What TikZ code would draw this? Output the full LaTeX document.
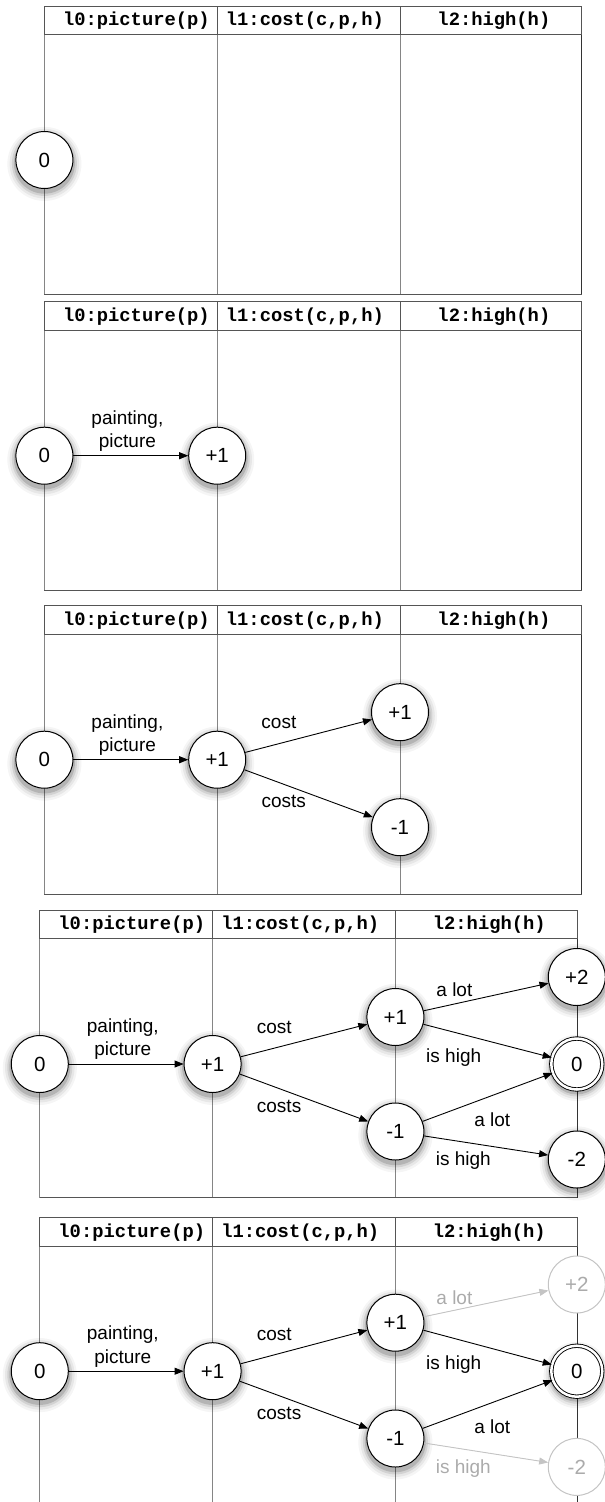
\documentclass[tikz,border=0pt]{standalone}
\usepackage{fontspec}
\setmainfont{Liberation Sans}
\newfontfamily\hdrfont{Liberation Mono}
\usetikzlibrary{arrows.meta,shadows}
\definecolor{vline}{HTML}{858585}
\definecolor{hline}{HTML}{555555}
\definecolor{rline}{HTML}{333333}
\definecolor{fadeline}{HTML}{C4C4C4}
\definecolor{fadetext}{HTML}{ABABAB}
\tikzset{
  softshadow/.style={
    general shadow={fill=black,opacity=0.04,shadow scale=1.30,shadow yshift=-3pt},
    general shadow={fill=black,opacity=0.06,shadow scale=1.22,shadow yshift=-3pt},
    general shadow={fill=black,opacity=0.09,shadow scale=1.14,shadow yshift=-3pt},
    general shadow={fill=black,opacity=0.14,shadow scale=1.07,shadow yshift=-3pt}},
  state/.style={circle, draw=black, line width=1pt, fill=white, minimum size=57pt,
    inner sep=0pt, font=\fontsize{20.5}{24}\selectfont, softshadow},
  finalstate/.style={state, minimum size=51pt, double, double distance=2.5pt, line width=0.9pt},
  fadedstate/.style={circle, draw=fadeline, line width=1pt, fill=white, minimum size=57pt,
    inner sep=0pt, text=fadetext, font=\fontsize{20.5}{24}\selectfont},
  lbl/.style={font=\fontsize{19}{23.5}\selectfont, inner sep=0pt, align=center},
  fadedlbl/.style={lbl, text=fadetext},
  hdr/.style={font=\hdrfont\bfseries\fontsize{18.8}{22}\selectfont, inner sep=0pt},
  edge/.style={-{Triangle[length=9pt,width=7pt]}, line width=0.9pt, draw=black},
  fadededge/.style={edge, draw=fadeline, fill=fadeline}
}
% #1 name prefix, #2 x shift, #3 y top, #4 body bottom (relative)
\newcommand\panelframe[4]{%
  \begin{scope}[shift={(#2,#3)}]
    \draw[vline, line width=1pt] (0,28.5) -- (0,#4) (172.8,28.5) -- (172.8,#4) (355.6,28.5) -- (355.6,#4);
    \draw[rline, line width=1pt] (537.5,28.5) -- (537.5,#4);
    \draw[hline, line width=1pt] (0,0) rectangle (537.5,28.5);
    \draw[hline, line width=1pt] (172.8,0) -- (172.8,28.5) (355.6,0) -- (355.6,28.5);
    \node[hdr] (#1h0) at (92,14.5) {l0:picture(p)};
    \node[hdr] (#1h1) at (260.5,14.5) {l1:cost(c,p,h)};
    \node[hdr] (#1h2) at (449.5,14.5) {l2:high(h)};
  \end{scope}}
\begin{document}
\begin{tikzpicture}[x=1pt,y=-1pt]
\useasboundingbox (0,0) rectangle (605,1502);

% ---------- panel 1 ----------
\panelframe{a}{44.4}{6}{288}
\draw[hline, line width=1pt] (44.4,294) -- (582,294);
\begin{scope}[shift={(44.4,6)}]
  \node[state] (a0) at (0,154) {0};
\end{scope}

% ---------- panel 2 ----------
\panelframe{b}{44.4}{301.7}{288.3}
\draw[hline, line width=1pt] (44.4,590) -- (582,590);
\begin{scope}[shift={(44.4,301.7)}]
  \node[state] (b0) at (0,154) {0};
  \node[state] (b1) at (172.8,154) {+1};
  \node[lbl] (bl1) at (83,129.3) {painting,\\picture};
  \draw[edge] (b0) -- (b1);
\end{scope}

% ---------- panel 3 ----------
\panelframe{c}{44.4}{605.7}{288.3}
\draw[hline, line width=1pt] (44.4,894) -- (582,894);
\begin{scope}[shift={(44.4,605.7)}]
  \node[state] (c0) at (0,154) {0};
  \node[state] (c1) at (172.8,154) {+1};
  \node[state] (c2u) at (355.6,106.5) {+1};
  \node[state] (c2d) at (355.6,221.5) {-1};
  \node[lbl] (cl1) at (83,129.3) {painting,\\picture};
  \node[lbl] (cl2) at (234.5,117) {cost};
  \node[lbl] (cl3) at (239.3,196) {costs};
  \draw[edge] (c0) -- (c1);
  \draw[edge] (c1) -- (c2u);
  \draw[edge] (c1) -- (c2d);
\end{scope}

% ---------- panel 4 ----------
\panelframe{d}{39.8}{910}{287.7}
\draw[hline, line width=1pt] (39.8,1197.7) -- (577.3,1197.7);
\begin{scope}[shift={(39.8,910)}]
  \node[state] (d0) at (0,154) {0};
  \node[state] (d1) at (172.8,154) {+1};
  \node[state] (d2u) at (355.6,107) {+1};
  \node[state] (d2d) at (355.6,221.5) {-1};
  \node[state] (d3a) at (537,67) {+2};
  \node[finalstate] (d3b) at (537,154) {0};
  \node[state] (d3c) at (537,249.5) {-2};
  \node[lbl] (dl1) at (83,129.3) {painting,\\picture};
  \node[lbl] (dl2) at (234.5,117) {cost};
  \node[lbl] (dl3) at (239.3,196) {costs};
  \node[lbl] (dl4) at (414.6,80) {a lot};
  \node[lbl] (dl5) at (413.9,147.5) {is high};
  \node[lbl] (dl6) at (452.5,209.5) {a lot};
  \node[lbl] (dl7) at (423.5,251) {is high};
  \draw[edge] (d0) -- (d1);
  \draw[edge] (d1) -- (d2u);
  \draw[edge] (d1) -- (d2d);
  \draw[edge] (d2u) -- (d3a);
  \draw[edge] (d2u) -- (d3b);
  \draw[edge] (d2d) -- (d3b);
  \draw[edge] (d2d) -- (d3c);
\end{scope}

% ---------- panel 5 ----------
\panelframe{e}{39.8}{1217.7}{300}
\begin{scope}[shift={(39.8,1217.7)}]
  \node[state] (e0) at (0,153.5) {0};
  \node[state] (e1) at (172.8,153.5) {+1};
  \node[state] (e2u) at (355.6,105) {+1};
  \node[state] (e2d) at (355.6,220.8) {-1};
  \node[fadedstate] (e3a) at (537,66.8) {+2};
  \node[finalstate] (e3b) at (537,153.5) {0};
  \node[fadedstate] (e3c) at (537,249.2) {-2};
  \node[lbl] (el1) at (83,129) {painting,\\picture};
  \node[lbl] (el2) at (234.5,117) {cost};
  \node[lbl] (el3) at (239.3,196) {costs};
  \node[fadedlbl] (el4) at (414.6,79.6) {a lot};
  \node[lbl] (el5) at (413.9,147.3) {is high};
  \node[lbl] (el6) at (452.5,209) {a lot};
  \node[fadedlbl] (el7) at (423.5,251.3) {is high};
  \draw[edge] (e0) -- (e1);
  \draw[edge] (e1) -- (e2u);
  \draw[edge] (e1) -- (e2d);
  \draw[fadededge] (e2u) -- (e3a);
  \draw[edge] (e2u) -- (e3b);
  \draw[edge] (e2d) -- (e3b);
  \draw[fadededge] (e2d) -- (e3c);
\end{scope}
\end{tikzpicture}
\end{document}
